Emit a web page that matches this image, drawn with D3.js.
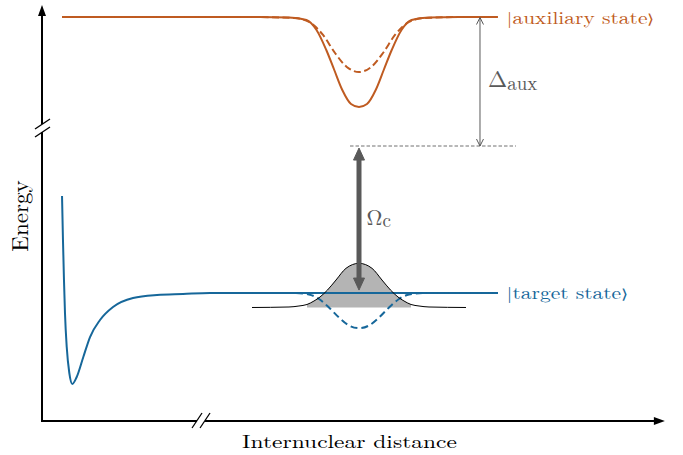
<!DOCTYPE html>
<html>
<head>
<meta charset="utf-8">
<script src="https://cdn.jsdelivr.net/npm/d3@7"></script>
<style>
  body { margin: 0; background: #fff; }
  text { font-family: "Latin Modern Roman", "Liberation Serif", serif; }
</style>
</head>
<body>
<script>
// Schematic energy diagram (arbitrary units)
var auxX       = [0.379, 4.107, 4.675, 5.006, 5.196, 5.381, 5.532, 5.684, 5.849, 6.000, 6.151, 6.316, 6.468, 6.619, 6.804, 6.994, 7.325, 7.893, 8.630]
var auxSolid   = [9.388, 9.388, 9.371, 9.286, 8.946, 8.265, 7.585, 6.905, 6.429, 6.327, 6.429, 6.905, 7.585, 8.265, 8.946, 9.286, 9.371, 9.388, 9.388]
var auxDashX   = [0.379, 3.918, 4.770, 5.054, 5.319, 5.546, 5.763, 6.000, 6.237, 6.454, 6.681, 6.946, 7.230, 8.082, 8.630]
var auxDashed  = [9.388, 9.388, 9.354, 9.218, 8.776, 8.163, 7.697, 7.517, 7.697, 8.163, 8.776, 9.218, 9.354, 9.388, 9.388]

var targetX      = [0.379, 0.397, 0.416, 0.435, 0.468, 0.517, 0.574, 0.657, 0.782, 0.909, 1.098, 1.344, 1.723, 2.177, 2.669, 3.180, 8.630]
var targetSolid  = [3.299, 1.803, 0.442, -0.680, -1.837, -2.721, -3.095, -2.857, -2.177, -1.497, -0.918, -0.476, -0.170, -0.068, -0.034, 0, 0]
var targetDashX  = [3.975, 4.770, 5.054, 5.243, 5.432, 5.621, 5.811, 6.000, 6.189, 6.379, 6.568, 6.757, 6.946, 7.230, 8.630]
var targetDashed = [0, 0, -0.051, -0.204, -0.493, -0.833, -1.105, -1.197, -1.105, -0.833, -0.493, -0.204, -0.051, 0, 0]

var packetX    = [3.975, 4.675, 4.864, 5.016, 5.148, 5.262, 5.404, 5.565, 5.754, 6.000, 6.246, 6.435, 6.596, 6.738, 6.852, 6.984, 7.136, 7.325, 8.025]
var packetY    = [-0.493, -0.476, -0.442, -0.391, -0.272, -0.136, 0.102, 0.442, 0.840, 1.010, 0.840, 0.442, 0.102, -0.136, -0.272, -0.391, -0.442, -0.476, -0.493]
var packetBase = -0.493
var packetFill = [5.016, 6.984]

var omegaArrow = [0.10, 4.93]     // energies of the coupling arrow ends
var deltaArrow = [5.0, 9.37]      // detuning arrow
var virtualLevel = 5.0
var virtualX   = [5.83, 8.97]

var auxName    = "auxiliary state"
var targetName = "target state"
var xTitle     = "Internuclear distance"
var yTitle     = "Energy"

var orange = "#bf5b21"
var blue   = "#16679a"
var grey   = "#595959"

var W = 683, H = 455
var x = d3.scaleLinear().domain([0, 6]).range([42, 359])
var y = d3.scaleLinear().domain([0, 5]).range([293, 146])

var svg = d3.select("body").append("svg")
    .attr("width", W)
    .attr("height", H)

function zip(xs, ys) {
    return xs.map(function(v, i) { return [v, ys[i]] })
}

var line = d3.line()
    .x(function(d) { return x(d[0]) })
    .y(function(d) { return y(d[1]) })
    .curve(d3.curveMonotoneX)

// axes (no ticks, broken)
var x0 = 0, xEnd = 11.79, xBreak = 3.01
var yBot = -4.354, yTop = 9.796, yBreak = 5.61
var ax = svg.append("g").attr("stroke", "black").attr("stroke-width", 2).attr("fill", "none")
ax.append("line").attr("x1", x(x0)).attr("x2", x(x0)).attr("y1", y(yBot) + 1).attr("y2", y(yBreak) + 4)
ax.append("line").attr("x1", x(x0)).attr("x2", x(x0)).attr("y1", y(yBreak) - 4).attr("y2", y(yTop) + 6)
ax.append("line").attr("x1", x(x0) - 1).attr("x2", x(xBreak) - 4).attr("y1", y(yBot)).attr("y2", y(yBot))
ax.append("line").attr("x1", x(xBreak) + 4).attr("x2", x(xEnd) - 6).attr("y1", y(yBot)).attr("y2", y(yBot))

// break marks
var bx = x(x0), by = y(yBreak)
;[-4, 4].forEach(function(o) {
    ax.append("line").attr("stroke-width", 1.3)
        .attr("x1", bx - 7).attr("y1", by + o + 5).attr("x2", bx + 8).attr("y2", by + o - 5)
})
var cx = x(xBreak), cy = y(yBot)
;[-4, 4].forEach(function(o) {
    ax.append("line").attr("stroke-width", 1.3)
        .attr("x1", cx + o - 5).attr("y1", cy + 7).attr("x2", cx + o + 5).attr("y2", cy - 8)
})

// arrow heads of axes
svg.append("path")
    .attr("d", "M" + x(x0) + "," + y(yTop) + "l-4,11l8,0z")
    .attr("fill", "black")
svg.append("path")
    .attr("d", "M" + x(xEnd) + "," + y(yBot) + "l-11,-4l0,8z")
    .attr("fill", "black")

// wave packet fill
var packet = zip(packetX, packetY)
var fillPts = packet.filter(function(d) { return d[0] >= packetFill[0] && d[0] <= packetFill[1] })
svg.append("path")
    .datum(fillPts)
    .attr("d", d3.area()
        .x(function(d) { return x(d[0]) })
        .y0(y(packetBase))
        .y1(function(d) { return y(d[1]) })
        .curve(d3.curveMonotoneX))
    .attr("fill", "#b4b4b4")

// potential curves
svg.append("path").datum(zip(auxX, auxSolid)).attr("d", line)
    .attr("fill", "none").attr("stroke", orange).attr("stroke-width", 2)
svg.append("path").datum(zip(auxDashX, auxDashed)).attr("d", line)
    .attr("fill", "none").attr("stroke", orange).attr("stroke-width", 2)
    .attr("stroke-dasharray", "7,3.5")
svg.append("path").datum(zip(targetX, targetSolid)).attr("d", line)
    .attr("fill", "none").attr("stroke", blue).attr("stroke-width", 2)
svg.append("path").datum(zip(targetDashX, targetDashed)).attr("d", line)
    .attr("fill", "none").attr("stroke", blue).attr("stroke-width", 2)
    .attr("stroke-dasharray", "7,4")

svg.append("path").datum(packet).attr("d", line)
    .attr("fill", "none").attr("stroke", "black").attr("stroke-width", 1)

// virtual level
svg.append("line")
    .attr("x1", x(virtualX[0])).attr("x2", x(virtualX[1]))
    .attr("y1", y(virtualLevel)).attr("y2", y(virtualLevel))
    .attr("stroke", "#707070").attr("stroke-width", 1).attr("stroke-dasharray", "3.5,2")

// detuning arrow
var dx = x(8.29)
svg.append("line")
    .attr("x1", dx).attr("x2", dx).attr("y1", y(deltaArrow[0])).attr("y2", y(deltaArrow[1]))
    .attr("stroke", grey).attr("stroke-width", 1)
svg.append("path")
    .attr("d", "M" + (dx - 3.5) + "," + (y(deltaArrow[1]) + 7) + "L" + dx + "," + y(deltaArrow[1]) + "L" + (dx + 3.5) + "," + (y(deltaArrow[1]) + 7) +
               "M" + (dx - 3.5) + "," + (y(deltaArrow[0]) - 7) + "L" + dx + "," + y(deltaArrow[0]) + "L" + (dx + 3.5) + "," + (y(deltaArrow[0]) - 7))
    .attr("fill", "none").attr("stroke", grey).attr("stroke-width", 1)

// coupling arrow
var ox = x(6)
var oTop = y(omegaArrow[1]), oBot = y(omegaArrow[0])
svg.append("line")
    .attr("x1", ox).attr("x2", ox).attr("y1", oTop + 8).attr("y2", oBot - 8)
    .attr("stroke", grey).attr("stroke-width", 5)
svg.append("path")
    .attr("d", "M" + ox + "," + oTop + "l-5.5,12l11,0z" + "M" + ox + "," + oBot + "l-5.5,-12l11,0z")
    .attr("fill", grey).attr("stroke", grey).attr("stroke-width", 1).attr("stroke-linejoin", "round")

// ket labels: |name>, text is a little squashed vertically like the original
function ket(xp, yp, name, color) {
    var t = svg.append("text")
        .attr("transform", "translate(" + xp + "," + yp + ") scale(1,0.77)")
        .attr("fill", color).style("font-size", "21.5px")
    t.append("tspan").text("|")
    t.append("tspan").text(name)
    t.append("tspan").style("font-family", "DejaVu Sans").style("font-size", "18px").style("font-weight", "200").text("\u27E9")
}
ket(x(8.79), 23.5, auxName, orange)
ket(x(8.79), 299, targetName, blue)

var dl = svg.append("text").attr("x", 488).attr("y", 87.3)
    .attr("fill", grey).style("font-size", "23px")
dl.append("tspan").text("\u0394")
dl.append("tspan").attr("dy", 2.7).style("font-size", "19px").text("aux")

var ol = svg.append("text").attr("x", 366.5).attr("y", 225)
    .attr("fill", grey).style("font-size", "22px")
ol.append("tspan").text("\u03A9")
ol.append("tspan").attr("dy", 2).style("font-size", "19px").text("c")

svg.append("text")
    .attr("transform", "translate(349.5,447.5) scale(1,0.8)")
    .attr("text-anchor", "middle").style("font-size", "23.5px").text(xTitle)
svg.append("text").attr("transform", "translate(27.8,216) rotate(-90)")
    .attr("text-anchor", "middle").style("font-size", "23px").text(yTitle)
</script>
</body>
</html>
